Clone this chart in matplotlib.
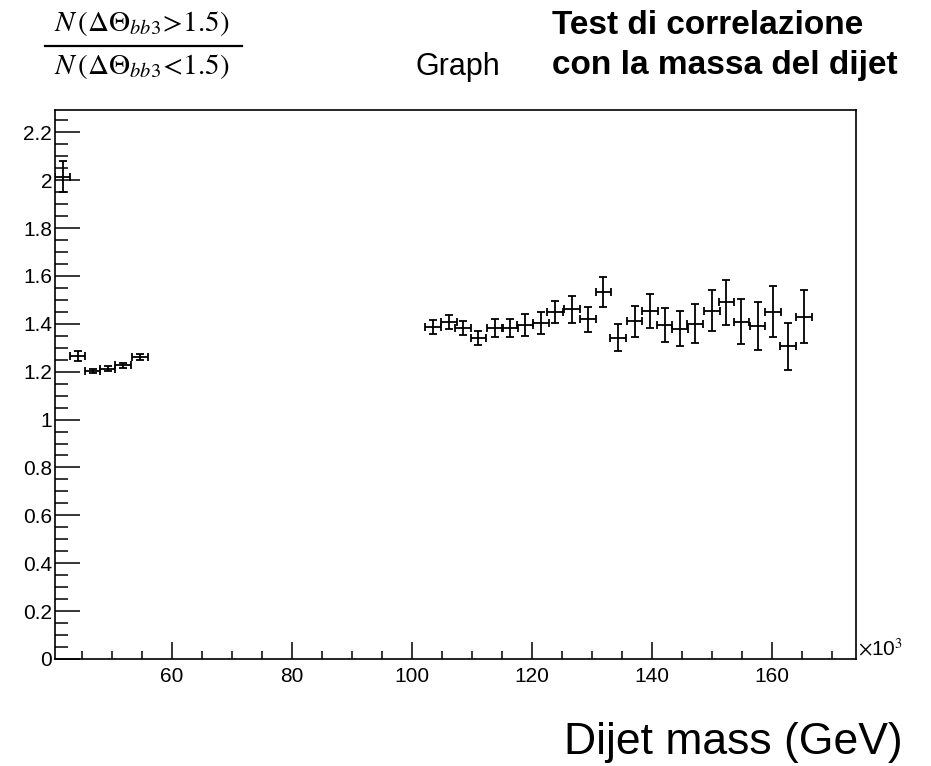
import numpy as np
import matplotlib
matplotlib.use('Agg')
import matplotlib.pyplot as plt
from matplotlib.ticker import MultipleLocator, FuncFormatter
from matplotlib.lines import Line2D

# Dijet mass bin centres (x10^3 GeV) and ratio values
mass_low = [41.8, 44.3, 46.8, 49.3, 51.9, 54.7]
ratio_low = [2.015, 1.265, 1.203, 1.213, 1.226, 1.261]
err_low = [0.065, 0.02, 0.01, 0.01, 0.012, 0.012]

mass_high = [103.5, 106.2, 108.5, 111.1, 113.9, 116.4, 118.9, 121.5, 123.9,
             126.7, 129.3, 131.9, 134.3, 137.1, 139.7, 142.1, 144.7, 147.2,
             150.0, 152.4, 154.9, 157.6, 160.2, 162.7, 165.3]
ratio_high = [1.387, 1.408, 1.383, 1.342, 1.383, 1.383, 1.394, 1.404, 1.450,
              1.460, 1.418, 1.533, 1.342, 1.411, 1.454, 1.394, 1.380, 1.401,
              1.454, 1.491, 1.408, 1.390, 1.450, 1.306, 1.429]
err_high = [0.028, 0.030, 0.030, 0.030, 0.037, 0.037, 0.047, 0.045, 0.047,
            0.055, 0.054, 0.061, 0.057, 0.065, 0.071, 0.072, 0.072, 0.082,
            0.086, 0.094, 0.094, 0.100, 0.106, 0.097, 0.111]

mass = mass_low + mass_high
ratio = ratio_low + ratio_high
yerr = err_low + err_high
xerr = [1.3] * len(mass)

plt.rcParams['font.family'] = ['Liberation Sans', 'DejaVu Sans']
plt.rcParams['mathtext.fontset'] = 'stix'

fig = plt.figure(figsize=(9.31, 7.66), dpi=100)
ax = fig.add_axes([55 / 931, 1 - 659 / 766, 801 / 931, 549 / 766])

ax.errorbar(mass, ratio, xerr=xerr, yerr=yerr, fmt='none', ecolor='black',
            elinewidth=1.3, capsize=2.6, capthick=1.3)

ax.set_xlim(40.55, 174.0)
ax.set_ylim(0, 2.293)

ax.xaxis.set_major_locator(MultipleLocator(20))
ax.xaxis.set_minor_locator(MultipleLocator(5))
ax.yaxis.set_major_locator(MultipleLocator(0.2))
ax.yaxis.set_minor_locator(MultipleLocator(0.05))

def fmt(v, pos):
    s = f"{v:.1f}"
    return s[:-2] if s.endswith('.0') else s

ax.yaxis.set_major_formatter(FuncFormatter(fmt))
ax.xaxis.set_major_formatter(FuncFormatter(lambda v, p: f"{v:.0f}"))

ax.tick_params(axis='both', which='both', direction='in', top=False, right=False,
               labelsize=15, width=1.1, colors='black')
ax.tick_params(axis='y', which='major', length=18, pad=2)
ax.tick_params(axis='y', which='minor', length=9)
ax.tick_params(axis='x', which='major', length=12, pad=6)
ax.tick_params(axis='x', which='minor', length=6)
for s in ax.spines.values():
    s.set_linewidth(1.2)

# axis multiplier
fig.text(858 / 931, 1 - 655 / 766, r'$\times$10$^3$', fontsize=15, ha='left', va='baseline')

# title and annotations
fig.text(458 / 931, 1 - 75 / 766, 'Graph', fontsize=22, ha='center', va='baseline')
fig.text(552 / 931, 1 - 34 / 766, 'Test di correlazione', fontsize=24,
         fontweight='bold', ha='left', va='baseline')
fig.text(552 / 931, 1 - 74 / 766, 'con la massa del dijet', fontsize=24,
         fontweight='bold', ha='left', va='baseline')

# y label as a fraction
fig.text(142 / 931, 1 - 31 / 766, r'$N\,\left(\Delta\Theta_{\mathit{bb3}}\!>\!1.5\right)$',
         fontsize=21, ha='center', va='baseline')
fig.text(142 / 931, 1 - 74 / 766, r'$N\,\left(\Delta\Theta_{\mathit{bb3}}\!<\!1.5\right)$',
         fontsize=21, ha='center', va='baseline')
fig.add_artist(Line2D([45 / 931, 242 / 931], [1 - 46 / 766, 1 - 46 / 766],
                      color='black', linewidth=1.6, transform=fig.transFigure))

fig.text(903 / 931, 1 - 754 / 766, 'Dijet mass (GeV)', fontsize=32,
         ha='right', va='baseline')

fig.savefig('out.png', dpi=100, facecolor='white')
